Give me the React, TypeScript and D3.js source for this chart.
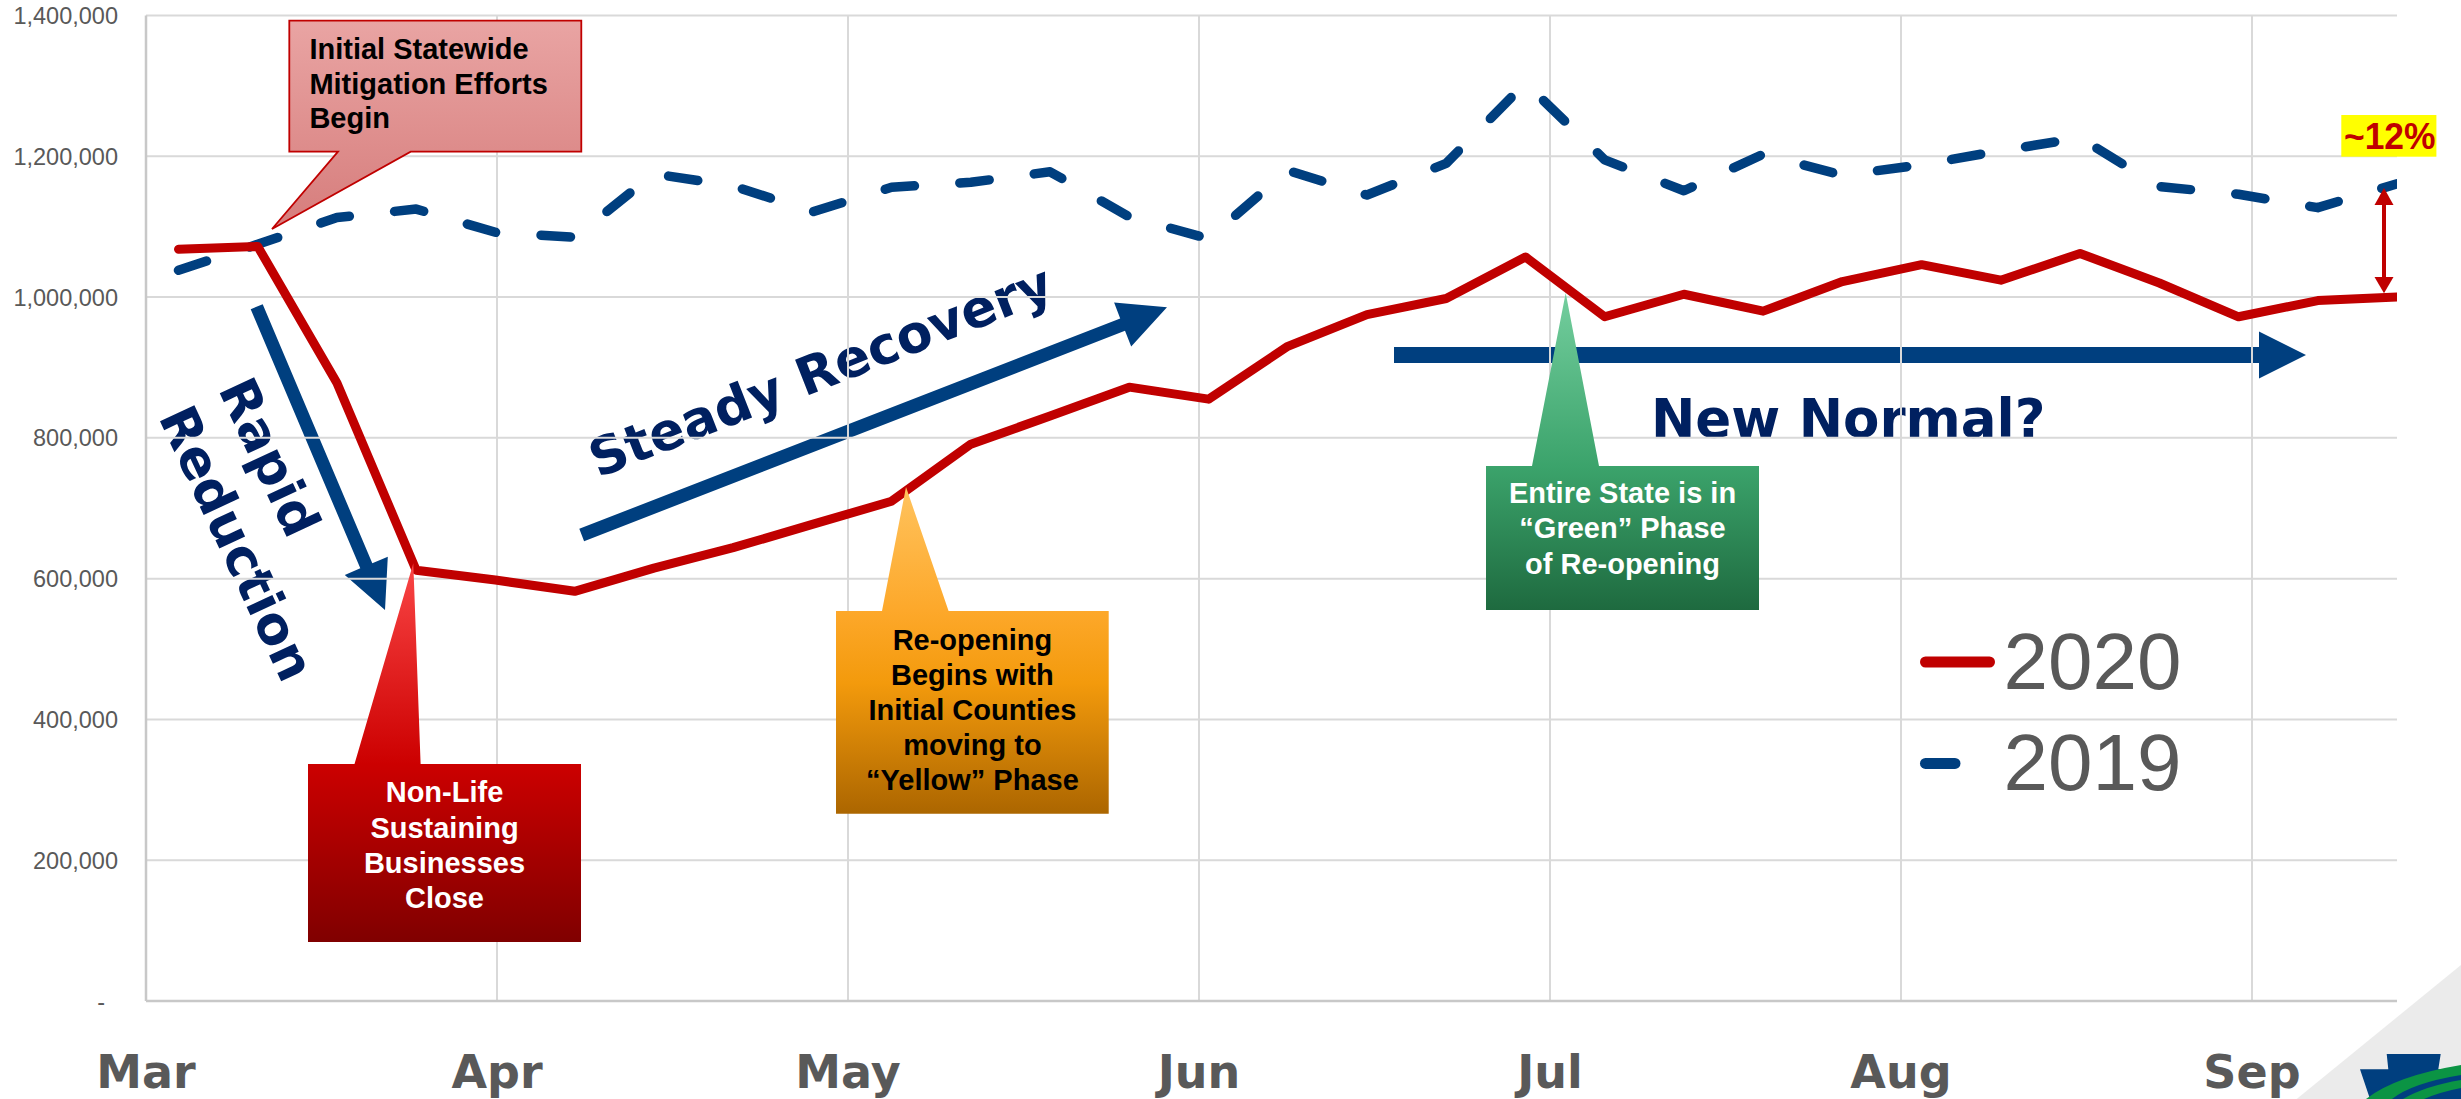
import { useEffect } from 'react';
import * as d3 from 'd3';

const WIDTH = 2461;
const HEIGHT = 1099;
// plot area in page pixels
const PLOT = { left: 146, right: 2397, top: 15.5, bottom: 1001 };

// weekly totals, one value per week starting early March
const total2020 = [
  1068000, 1072000, 878000, 612000, 598000, 582000, 615000, 644000, 677000, 710000,
  791000, 831000, 872000, 855000, 930000, 975000, 998000, 1057000, 972000, 1004000,
  980000, 1022000, 1046000, 1024000, 1062000, 1020000, 972000, 995000, 1000000,
];
const total2019 = [
  1038000, 1075000, 1113000, 1125000, 1092000, 1085000, 1175000, 1158000, 1121000, 1156000,
  1163000, 1178000, 1114000, 1083000, 1180000, 1145000, 1190000, 1304000, 1195000, 1151000,
  1203000, 1173000, 1188000, 1208000, 1226000, 1157000, 1146000, 1127000, 1161000,
];

const monthLabels = ['Mar', 'Apr', 'May', 'Jun', 'Jul', 'Aug', 'Sep'];
// where each month starts, in week-index units
const monthWeekPos = [-0.41, 4.02, 8.45, 12.88, 17.31, 21.74, 26.17];
const yTickValues = [0, 200000, 400000, 600000, 800000, 1000000, 1200000, 1400000];

const legendLabels = ['2020', '2019'];

const noteMitigation = ['Initial Statewide', 'Mitigation Efforts', 'Begin'];
const noteClose = ['Non-Life', 'Sustaining', 'Businesses', 'Close'];
const noteYellow = ['Re-opening', 'Begins with', 'Initial Counties', 'moving to', '\u201CYellow\u201D Phase'];
const noteGreen = ['Entire State is in', '\u201CGreen\u201D Phase', 'of Re-opening'];
const gapLabel = '~12%';

const RED = '#C00000';
const BLUE = '#003F7F';
const NAVY = '#002060';
const GRAY = '#595959';
const GRID = '#D9D9D9';
const AXIS = '#C8C8C8';

const x = d3.scaleLinear().domain([-0.41, 28]).range([PLOT.left, PLOT.right]);
const y = d3.scaleLinear().domain([0, 1400000]).range([PLOT.bottom, PLOT.top]);
const line = d3
  .line<number>()
  .x((_, i) => x(i))
  .y((d) => y(d));

const fmt = d3.format(',');

// block arrow outline from (x1,y1) to the tip (x2,y2)
function arrowPath(x1: number, y1: number, x2: number, y2: number, shaft: number, headLen: number, headHalf: number) {
  const len = Math.hypot(x2 - x1, y2 - y1);
  const ux = (x2 - x1) / len;
  const uy = (y2 - y1) / len;
  const px = -uy;
  const py = ux;
  const bx = x2 - ux * headLen;
  const by = y2 - uy * headLen;
  const h = shaft / 2;
  const pts = [
    [x1 + px * h, y1 + py * h],
    [bx + px * h, by + py * h],
    [bx + px * headHalf, by + py * headHalf],
    [x2, y2],
    [bx - px * headHalf, by - py * headHalf],
    [bx - px * h, by - py * h],
    [x1 - px * h, y1 - py * h],
  ];
  return 'M' + pts.map((p) => p.map((v) => v.toFixed(1)).join(',')).join('L') + 'Z';
}

interface CalloutProps {
  id: string;
  box: [number, number, number, number]; // left, top, right, bottom
  base: [number, number];
  tip: [number, number];
  stops: [number, string][];
  lines: string[];
  color: string;
  baselines: number[];
  align?: 'start' | 'middle';
  textX: number;
  stroke?: string;
}

function Callout({ id, box, base, tip, stops, lines, color, baselines, align = 'middle', textX, stroke }: CalloutProps) {
  const [l, t, r, b] = box;
  const below = tip[1] > b;
  const d = below
    ? `M${l},${t}L${r},${t}L${r},${b}L${base[1]},${b}L${tip[0]},${tip[1]}L${base[0]},${b}L${l},${b}Z`
    : `M${l},${t}L${base[0]},${t}L${tip[0]},${tip[1]}L${base[1]},${t}L${r},${t}L${r},${b}L${l},${b}Z`;
  const y0 = Math.min(t, tip[1]);
  const y1 = Math.max(b, tip[1]);
  return (
    <g>
      <defs>
        <linearGradient id={id} gradientUnits="userSpaceOnUse" x1={0} y1={y0} x2={0} y2={y1}>
          {stops.map(([o, c], i) => (
            <stop key={i} offset={o} stopColor={c} />
          ))}
        </linearGradient>
      </defs>
      <path d={d} fill={`url(#${id})`} stroke={stroke ?? 'none'} strokeWidth={stroke ? 1.8 : 0} strokeLinejoin="miter" />
      {lines.map((s, i) => (
        <text
          key={i}
          x={textX}
          y={baselines[i]}
          textAnchor={align}
          fill={color}
          fontFamily="'Liberation Sans', Arial, sans-serif"
          fontWeight="bold"
          fontSize={29}
        >
          {s}
        </text>
      ))}
    </g>
  );
}

export default function App() {
  useEffect(() => {
    document.body.style.margin = '0';
    document.body.style.overflow = 'hidden';
  }, []);

  const monthX = monthWeekPos.map((p) => x(p));
  const bigFont = "'DejaVu Sans', Verdana, sans-serif";

  return (
    <svg
      width={WIDTH}
      height={HEIGHT}
      viewBox={`0 0 ${WIDTH} ${HEIGHT}`}
      style={{ position: 'absolute', left: 0, top: 0, display: 'block' }}
    >
      <defs>
        <clipPath id="plotClip">
          <rect x={0} y={0} width={PLOT.right} height={HEIGHT} />
        </clipPath>
      </defs>
      <rect width={WIDTH} height={HEIGHT} fill="#fff" />

      {/* slide corner decoration */}
      <path d="M2296.7,1099L2461,965L2461,1099Z" fill="#EBEBEB" />
      <g>
        <path
          d="M2386.7,1054L2440.7,1054L2438.3,1069.3L2461,1069.3L2461,1099L2370,1099L2360,1069.3L2388.3,1069.3Z"
          fill={BLUE}
        />
        <path d="M2366,1099Q2395,1076 2461,1065L2461,1075Q2412,1083 2392,1099Z" fill="#0B9444" />
        <path d="M2403,1099Q2425,1086 2461,1080L2461,1088Q2440,1092 2424,1099Z" fill="#0B9444" />
      </g>

      {/* narrative arrows and texts (sit behind the chart) */}
      <path d={arrowPath(256.7, 306.7, 385, 610, 13, 48, 23.3)} fill={BLUE} />
      <path d={arrowPath(581.7, 535, 1167, 307.3, 13.3, 47.6, 23.6)} fill={BLUE} />
      <path d={arrowPath(1394, 355, 2306, 355, 16, 47, 23.5)} fill={BLUE} />

      <g transform="translate(158,417) rotate(65)" fontFamily={bigFont} fontWeight="bold" fontSize={52} fill={NAVY}>
        <text x={0} y={-66}>Rapid</text>
        <text x={0} y={0}>Reduction</text>
      </g>
      <text
        transform="translate(598,478) rotate(-21.5)"
        fontFamily={bigFont}
        fontWeight="bold"
        fontSize={52}
        fill={NAVY}
      >
        Steady Recovery
      </text>
      <text x={1651} y={436.7} fontFamily={bigFont} fontWeight="bold" fontSize={53} fill={NAVY}>
        New Normal?
      </text>

      {/* grid */}
      {yTickValues.slice(1).map((v) => (
        <line key={v} x1={PLOT.left} x2={PLOT.right} y1={y(v)} y2={y(v)} stroke={GRID} strokeWidth={2} />
      ))}
      {monthX.slice(1).map((mx, i) => (
        <line key={i} x1={mx} x2={mx} y1={PLOT.top} y2={PLOT.bottom} stroke={GRID} strokeWidth={2} />
      ))}
      <line x1={PLOT.left} x2={PLOT.left} y1={PLOT.top} y2={PLOT.bottom} stroke={AXIS} strokeWidth={2.5} />
      <line x1={PLOT.left} x2={PLOT.right} y1={PLOT.bottom} y2={PLOT.bottom} stroke={AXIS} strokeWidth={2.5} />

      {/* y tick labels */}
      {yTickValues.map((v) => (
        <text
          key={v}
          x={v === 0 ? 105 : 118}
          y={y(v) + 8.5}
          textAnchor="end"
          fontFamily="'Liberation Sans', Arial, sans-serif"
          fontSize={23.5}
          fill={GRAY}
        >
          {v === 0 ? '-' : fmt(v)}
        </text>
      ))}

      {/* month labels */}
      {monthLabels.map((m, i) => (
        <text
          key={m}
          x={monthX[i]}
          y={1087.5}
          textAnchor="middle"
          fontFamily={bigFont}
          fontWeight="bold"
          fontSize={46}
          fill={GRAY}
        >
          {m}
        </text>
      ))}

      {/* series */}
      <g clipPath="url(#plotClip)">
        <path
          d={line(total2019) ?? ''}
          fill="none"
          stroke={BLUE}
          strokeWidth={9.5}
          strokeDasharray="29.5 45.5"
          strokeLinecap="round"
          strokeLinejoin="round"
        />
        <path d={line(total2020) ?? ''} fill="none" stroke={RED} strokeWidth={9} strokeLinejoin="round" strokeLinecap="round" />
      </g>

      {/* callouts */}
      <Callout
        id="gMitigation"
        box={[289.3, 20.7, 581.3, 151.7]}
        base={[338, 410.7]}
        tip={[272, 229]}
        stops={[
          [0, '#E9A4A3'],
          [1, '#D67D7C'],
        ]}
        stroke={RED}
        lines={noteMitigation}
        color="#000"
        baselines={[59.3, 94, 128.3]}
        align="start"
        textX={309.4}
      />
      <Callout
        id="gClose"
        box={[308, 764, 581, 942]}
        base={[354.5, 420.6]}
        tip={[413.3, 563.3]}
        stops={[
          [0, '#FA4646'],
          [0.53, '#CC0000'],
          [1, '#800000'],
        ]}
        lines={noteClose}
        color="#fff"
        baselines={[801.8, 837.5, 872.5, 907.6]}
        textX={444.5}
      />
      <Callout
        id="gYellow"
        box={[836, 611, 1108.7, 813.7]}
        base={[882, 948.6]}
        tip={[906, 487]}
        stops={[
          [0, '#FFC35E'],
          [0.38, '#FDA82A'],
          [0.6, '#F39A0C'],
          [1, '#AC6600'],
        ]}
        lines={noteYellow}
        color="#000"
        baselines={[649.7, 684.5, 719.7, 754.7, 790]}
        textX={972.4}
      />
      <Callout
        id="gGreen"
        box={[1486, 466, 1759, 610]}
        base={[1532, 1599]}
        tip={[1565.7, 293]}
        stops={[
          [0, '#74CE9E'],
          [0.55, '#3BA36B'],
          [1, '#1E6A3F'],
        ]}
        lines={noteGreen}
        color="#fff"
        baselines={[503.4, 538.2, 573.6]}
        textX={1622.5}
      />

      {/* legend */}
      <line x1={1925.5} x2={1989.5} y1={662} y2={662} stroke={RED} strokeWidth={11} strokeLinecap="round" />
      <line x1={1925.5} x2={1955} y1={763.4} y2={763.4} stroke={BLUE} strokeWidth={11} strokeLinecap="round" />
      {legendLabels.map((s, i) => (
        <text
          key={s}
          x={2003.6}
          y={689 + i * 101}
          fontFamily="'Liberation Sans', Arial, sans-serif"
          fontSize={80}
          fill={GRAY}
        >
          {s}
        </text>
      ))}

      {/* gap marker */}
      <line x1={2384} x2={2384} y1={200} y2={281} stroke={RED} strokeWidth={4} />
      <path d="M2384,188L2374.5,205L2393.5,205Z" fill={RED} />
      <path d="M2384,293.3L2374.5,277L2393.5,277Z" fill={RED} />
      <rect x={2341.3} y={115} width={95.1} height={41.7} fill="#FFFF00" />
      <text
        x={2344}
        y={149.3}
        fontFamily="'Liberation Sans', Arial, sans-serif"
        fontWeight="bold"
        fontSize={36}
        fill={RED}
        textLength={91.5}
        lengthAdjust="spacingAndGlyphs"
      >
        {gapLabel}
      </text>
    </svg>
  );
}
